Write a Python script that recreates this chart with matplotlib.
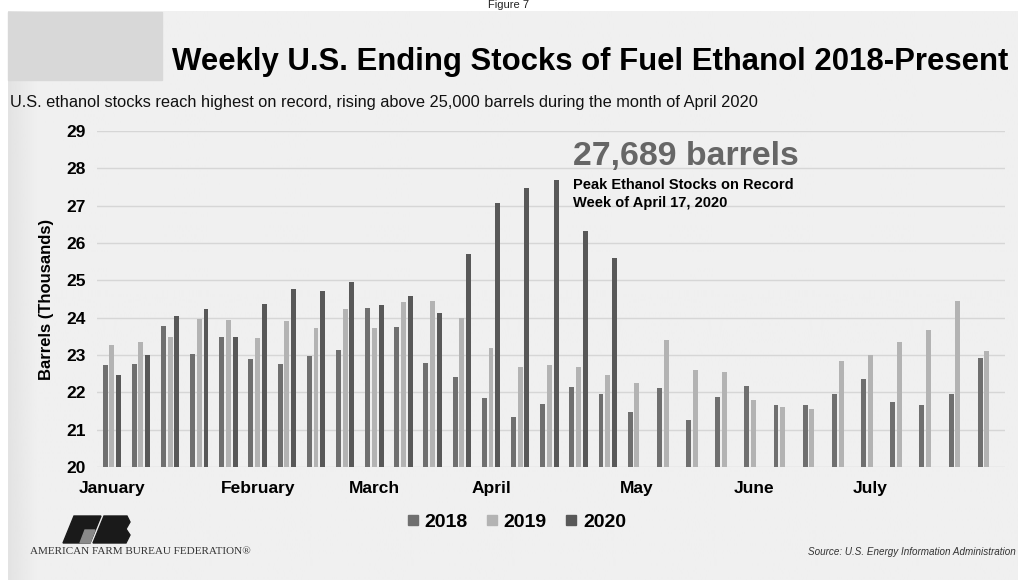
import numpy as np
import matplotlib
matplotlib.use("Agg")
import matplotlib.pyplot as plt
from matplotlib.patches import Rectangle, Polygon
from matplotlib.lines import Line2D

# weekly ending stocks, thousand barrels
stocks_2018 = [22.73, 22.75, 23.79, 23.04, 23.48, 22.88, 22.75, 22.98, 23.13, 24.27,
               23.75, 22.78, 22.42, 21.84, 21.35, 21.69, 22.14, 21.95, 21.48, 22.12,
               21.26, 21.88, 22.16, 21.65, 21.67, 21.96, 22.37, 21.75, 21.65, 21.96, 22.91]
stocks_2019 = [23.26, 23.35, 23.49, 23.96, 23.94, 23.46, 23.90, 23.71, 24.24, 23.73,
               24.41, 24.44, 23.99, 23.20, 22.68, 22.74, 22.68, 22.46, 22.24, 23.40,
               22.60, 22.54, 21.80, 21.60, 21.56, 22.83, 23.00, 23.36, 23.67, 24.44, 23.10]
stocks_2020 = [22.46, 23.01, 24.04, 24.24, 23.48, 24.36, 24.78, 24.72, 24.95, 24.33,
               24.59, 24.13, 25.71, 27.08, 27.46, 27.689, 26.32, 25.59]

month_labels = ["January", "February", "March", "April", "May", "June", "July"]
month_weeks = [0, 5, 9, 13, 18, 22, 26]
years = ["2018", "2019", "2020"]
colors = ["#6f6f6f", "#b3b3b3", "#585858"]

W, H = 1018, 580
SANS = ["Liberation Sans", "DejaVu Sans"]
SERIF = ["Liberation Serif", "DejaVu Serif"]


def fx(px):
    return px / W


def fy(py):
    return 1 - py / H


fig = plt.figure(figsize=(W / 100, H / 100), dpi=100, facecolor="white")
renderer = fig.canvas.get_renderer()


def fit_text(x0, yc, s, width_px, **kw):
    """Place text at pixel (x0, yc) and scale its size so it spans width_px."""
    t = fig.text(fx(x0), fy(yc), s, fontsize=12, va="center", **kw)
    w = t.get_window_extent(renderer).width
    t.set_fontsize(12 * width_px / w)
    return t


# page background with a slightly darker left edge and the grey patch top left
bg = fig.add_axes([fx(8), 0, 1 - fx(8), fy(11)], zorder=-10)
shade = np.clip(np.linspace(0, 1, 1000) * 35, 0, 1)
bg.imshow((0.89 + 0.05 * shade)[None, :], cmap="gray", vmin=0, vmax=1,
          aspect="auto", extent=(0, 1, 0, 1))
bg.set_axis_off()
fig.patches.append(Rectangle((fx(8), fy(80)), fx(154), fy(12) - fy(80),
                             transform=fig.transFigure, color="#d8d8d8", zorder=5))
fig.text(0.5, 1.0, "Figure 7", ha="center", va="top", fontsize=8,
         family=SANS, color="#222222")

# plot area: 97..1005 px wide, 131..467 px tall
ax = fig.add_axes([fx(97), fy(467), fx(1005 - 97), (467 - 131) / H])
ax.patch.set_alpha(0)
n = len(stocks_2018)
x = np.arange(n)
s2020 = np.full(n, np.nan)
s2020[:len(stocks_2020)] = stocks_2020
offset, width = 0.23, 0.17
for vals, off, col in zip([stocks_2018, stocks_2019, s2020], [-offset, 0, offset], colors):
    ax.bar(x + off, np.asarray(vals) - 20, width=width, bottom=20, color=col, zorder=3)

spacing = 29.17
ax.set_xlim((97 - 111.8) / spacing, (1005 - 111.8) / spacing)
ax.set_ylim(20, 29)
ax.set_yticks(range(20, 30))
ax.set_yticklabels([str(v) for v in range(20, 30)], fontsize=12.5, fontweight="bold",
                   family=SANS)
ax.set_xticks(month_weeks)
ax.set_xticklabels(month_labels, fontsize=12.5, fontweight="bold", family=SANS)
ax.tick_params(length=0, pad=8)
ax.tick_params(axis="x", pad=10)
ax.grid(axis="y", color="#d6d6d6", lw=1, zorder=0)
for s in ax.spines.values():
    s.set_visible(False)
ax.set_ylabel("Barrels (Thousands)", fontsize=12, fontweight="bold", family=SANS,
              labelpad=9)

# titles
fit_text(172, 62, "Weekly U.S. Ending Stocks of Fuel Ethanol 2018-Present", 833,
         fontweight="bold", family=SANS, ha="left")
fit_text(10, 102, "U.S. ethanol stocks reach highest on record, rising above "
         "25,000 barrels during the month of April 2020", 748,
         family=SANS, ha="left", color="#111111")

# peak annotation
fit_text(573, 157, "27,689 barrels", 225, fontweight="bold",
         family=SANS, color="#666666", ha="left")
fig.text(fx(573), fy(185), "Peak Ethanol Stocks on Record", fontsize=10.5,
         fontweight="bold", family=SANS, va="center", ha="left")
fig.text(fx(573), fy(203), "Week of April 17, 2020", fontsize=10.5,
         fontweight="bold", family=SANS, va="center", ha="left")

# legend
handles = [Line2D([0], [0], marker="s", linestyle="none", markersize=6.5,
                  markerfacecolor=c, markeredgecolor=c) for c in colors]
fig.legend(handles, years, loc="center", bbox_to_anchor=(fx(517), fy(522)), ncol=3,
           frameon=False, handlelength=0.5, handletextpad=0.35, columnspacing=1.0,
           prop={"family": SANS, "weight": "bold", "size": 14})

# farm bureau logo
logo = [
    ([(63, 543), (74, 516), (101, 516), (90, 543)], "#1a1a1a"),
    ([(80, 543), (85, 530), (95, 530), (90, 543)], "#8a8a8a"),
    ([(93, 543), (104, 516), (127, 516), (130, 522), (126, 529), (130, 535),
      (126, 543)], "#1a1a1a"),
]
for pts, col in logo:
    fig.patches.append(Polygon([(fx(px), fy(py)) for px, py in pts], closed=True,
                               transform=fig.transFigure, color=col))
fit_text(30, 552, "AMERICAN FARM BUREAU FEDERATION\u00ae", 220,
         family=SERIF, ha="left", color="#333333")
fit_text(808, 552, "Source: U.S. Energy Information Administration", 207,
         style="italic", family=SANS, ha="left", color="#333333")

fig.savefig("out.png", dpi=100, facecolor="white")
